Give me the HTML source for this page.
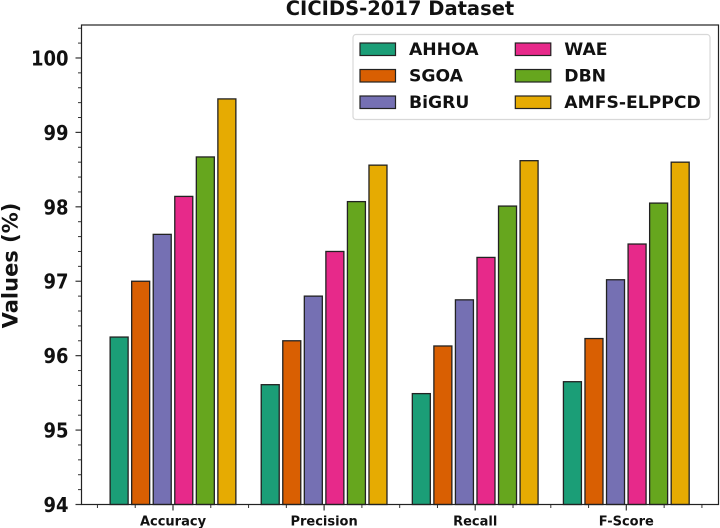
<!DOCTYPE html>
<html>
<head>
<meta charset="utf-8">
<style>
html,body{margin:0;padding:0;background:#fff;width:720px;height:528px;overflow:hidden}
svg{display:block;filter:blur(0.35px)}
text{font-family:"DejaVu Sans","Liberation Sans",sans-serif;font-weight:bold;fill:#111}
</style>
</head>
<body>
<svg id="chart" width="720" height="528" viewBox="0 0 720 528" xmlns="http://www.w3.org/2000/svg"></svg>
<script>
const categories = ["Accuracy", "Precision", "Recall", "F-Score"];
const seriesNames = ["AHHOA", "SGOA", "BiGRU", "WAE", "DBN", "AMFS-ELPPCD"];
const ahhoa = [96.25, 95.61, 95.49, 95.65];
const sgoa = [97.0, 96.2, 96.13, 96.23];
const bigru = [97.63, 96.8, 96.75, 97.02];
const wae = [98.14, 97.4, 97.32, 97.5];
const dbn = [98.67, 98.07, 98.01, 98.05];
const amfs = [99.45, 98.56, 98.62, 98.6];
const yTicks = [94, 95, 96, 97, 98, 99, 100];
const seriesValues = [ahhoa, sgoa, bigru, wae, dbn, amfs];
const colors = ["#1b9e77", "#d95f02", "#7570b3", "#e7298a", "#66a61e", "#e6ab02"];

const svg = document.getElementById('chart');
const NS = 'http://www.w3.org/2000/svg';
function make(tag, attrs, text) {
  const el = document.createElementNS(NS, tag);
  for (const k in attrs) el.setAttribute(k, attrs[k]);
  if (text !== undefined) el.textContent = text;
  svg.appendChild(el);
  return el;
}
const left = 81.5, right = 718.5, top_ = 25, bottom = 504.5;
function yScale(v) { return 504.5 - (v - 94) * 74.42; }
function xScale(groupIndex, offset) { return 173 + groupIndex * 151.1 + offset * 21.55; }
const barWidth = 18;

// bars
seriesValues.forEach(function (vals, s) {
  vals.forEach(function (v, g) {
    const cx = xScale(g, s - 2.5);
    const el = make('rect', {x: cx - barWidth / 2, y: yScale(v), width: barWidth, height: bottom - yScale(v), fill: colors[s], stroke: '#222', 'stroke-width': 1.3});
    
    
  });
});

// y ticks
for (let i = 0; i <= 32; i++) {
  const v = 94 + i * 0.2;
  if (yScale(v) < top_) break;
  const major = i % 5 === 0;
  const t = make('line', {x1: left - (major ? 6 : 3.5), x2: left, y1: yScale(v), y2: yScale(v), stroke: '#333', 'stroke-width': major ? 1.2 : 1});
  
  
}
yTicks.forEach(function (v) {
  const s = String(v);
  const t = make('text', {x: 68.5, y: yScale(v) + 7.5, 'text-anchor': 'end', 'font-size': 20, textLength: s.length * 12.5, lengthAdjust: 'spacingAndGlyphs'}, s);
  
  
});

// x ticks
categories.forEach(function (c, g) {
  const major = make('line', {x1: xScale(g, 0), x2: xScale(g, 0), y1: bottom, y2: bottom + 6, stroke: '#333', 'stroke-width': 1.2});
  
  
  const label = make('text', {x: xScale(g, 0), y: 525.5, 'text-anchor': 'middle', 'font-size': 13}, c);
  
  
});
for (let i = -2; i <= 14; i++) {
  if (i % 4 === 0) continue;
  const px = 173 + i * 37.78;
  if (px < left || px > right) continue;
  const minor = make('line', {x1: px, x2: px, y1: bottom, y2: bottom + 3.5, stroke: '#333', 'stroke-width': 1});
  
  
}

// axes frame
const frame = make('rect', {x: left, y: top_, width: right - left, height: bottom - top_, fill: 'none', stroke: '#222', 'stroke-width': 1.2});



// title and y-axis title
const title = make('text', {x: 400, y: 15, 'text-anchor': 'middle', 'font-size': 19.5}, 'CICIDS-2017 Dataset');


const yTitle = make('text', {x: 0, y: 0, 'text-anchor': 'middle', 'font-size': 21, transform: 'translate(17.5 265.5) rotate(-90)'}, 'Values (%)');



// legend
const legendBox = make('rect', {x: 353, y: 34.5, width: 357, height: 85, rx: 3, fill: '#fff', 'fill-opacity': 0.9, stroke: '#d8d8d8', 'stroke-width': 1.2});


seriesNames.forEach(function (n, s) {
  const col = s < 3 ? 0 : 1;
  const row = s % 3;
  const hx = 360 + col * 155.3;
  const hy = 43 + row * 26.5;
  const h = make('rect', {x: hx, y: hy, width: 35.5, height: 12.5, fill: colors[s], stroke: '#222', 'stroke-width': 1.2});
  
  
  const t = make('text', {x: hx + 49, y: hy + 12, 'font-size': 17.2}, n);
  
  
});
</script>
</body>
</html>
